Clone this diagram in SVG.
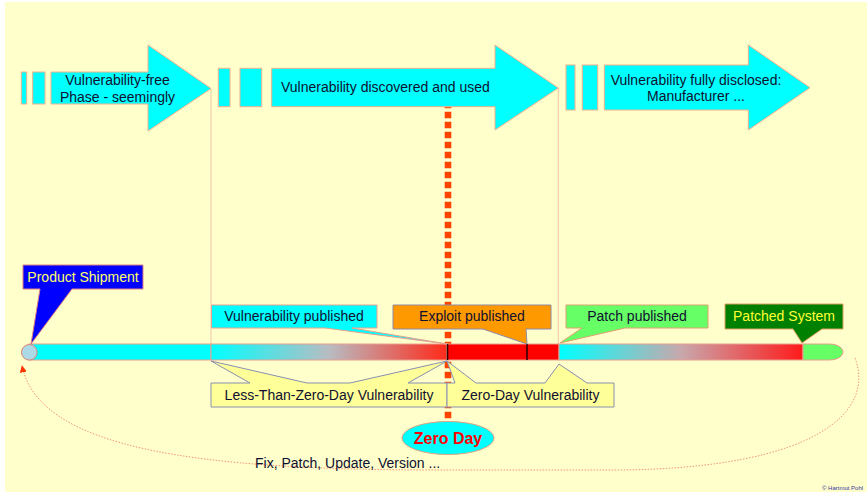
<svg xmlns="http://www.w3.org/2000/svg" width="867" height="494" viewBox="0 0 867 494">
  <style>
    .t { font-family: "Comic Sans MS", "Liberation Sans", sans-serif; font-size: 14px; fill: #101030; }
    .mid { text-anchor: middle; }
    .phase { fill: #00FFFF; stroke: #F2B08C; stroke-width: 1; }
    .guide { stroke: #F0B4A0; stroke-width: 0.8; fill: none; }
    .seg { stroke: #E8A090; stroke-width: 1; }
    .below { fill: #FFFF99; stroke: #8890B0; stroke-width: 1; }
    .tick { stroke: #300000; stroke-width: 1.6; }
  </style>
  <defs>
    <linearGradient id="fadeA" x1="0" y1="0" x2="1" y2="0">
      <stop offset="0" stop-color="#00FFFF"/>
      <stop offset="0.5" stop-color="#B8BCC2"/>
      <stop offset="1" stop-color="#FF2A1A"/>
    </linearGradient>
    <linearGradient id="fadeB" x1="0" y1="0" x2="1" y2="0">
      <stop offset="0" stop-color="#00FFFF"/>
      <stop offset="0.5" stop-color="#C8A8AC"/>
      <stop offset="1" stop-color="#FF1A1A"/>
    </linearGradient>
    <marker id="head" viewBox="0 0 10 10" refX="9" refY="5" markerWidth="7" markerHeight="7" markerUnits="userSpaceOnUse" orient="auto">
      <path d="M0,0 L10,5 L0,10 Z" fill="#FF3300"/>
    </marker>
  </defs>

  <!-- page -->
  <rect x="0" y="0" width="867" height="494" fill="#FFFFFF"/>
  <rect x="5" y="2" width="862" height="490" fill="#FFFFCC"/>

  <!-- zero-day marker line, phase boundaries and the update loop -->
  <g id="connectors">
    <line x1="448" y1="101.7" x2="448" y2="418.3" stroke="#FF4400" stroke-width="6.6" stroke-dasharray="6.6 3.4"/>
    <line class="guide" x1="211" y1="89" x2="211" y2="360"/>
    <line class="guide" x1="558.3" y1="88" x2="558.3" y2="344"/>
    <path d="M855,358 C875,410 820,468 620,470 L440,470 C200,470 40,450 22,366" fill="none" stroke="#F29478" stroke-width="1" stroke-dasharray="1.5 1.5" marker-end="url(#head)"/>
  </g>

  <!-- phase arrows -->
  <g id="phase-free">
    <rect class="phase" x="21.3" y="72" width="5.4" height="32"/>
    <rect class="phase" x="32.7" y="72" width="12.3" height="32"/>
    <polygon class="phase" points="51,72 148,72 148,45 211,88.5 148,131 148,104 51,104"/>
    <text class="t mid" x="117.5" y="85">Vulnerability-free</text>
    <text class="t mid" x="117.5" y="101.7">Phase - seemingly</text>
  </g>

  <g id="phase-discovered">
    <rect class="phase" x="218.3" y="68.3" width="11.7" height="38.4"/>
    <rect class="phase" x="240" y="68.3" width="21.7" height="38.4"/>
    <polygon class="phase" points="271.7,68.3 495,68.3 495,45 558.3,88 495,130 495,106.7 271.7,106.7"/>
    <text class="t" x="281" y="92">Vulnerability discovered and used</text>
  </g>

  <g id="phase-disclosed">
    <rect class="phase" x="566" y="65" width="9" height="45"/>
    <rect class="phase" x="582.3" y="65" width="15.4" height="45"/>
    <polygon class="phase" points="604.3,65 748.3,65 748.3,45 810,87.7 748.3,130 748.3,110 604.3,110"/>
    <text class="t mid" x="696" y="85">Vulnerability fully disclosed:</text>
    <text class="t mid" x="696" y="101">Manufacturer ...</text>
  </g>

  <!-- timeline bar -->
  <g id="timeline">
    <rect class="seg" x="29" y="344" width="182" height="16" fill="#00FFFF"/>
    <rect class="seg" x="211" y="344" width="236" height="16" fill="url(#fadeA)"/>
    <rect class="seg" x="447" y="344" width="112" height="16" fill="#FF0000"/>
    <rect class="seg" x="559" y="344" width="244" height="16" fill="url(#fadeB)"/>
    <path class="seg" d="M803,344 H830 A13,8 0 0 1 830,360 H803 Z" fill="#66FF66"/>
    <line class="tick" x1="447.5" y1="344" x2="447.5" y2="360"/>
    <line class="tick" x1="527" y1="344" x2="527" y2="360"/>
    <circle cx="29.3" cy="352.3" r="7.8" fill="#ADD8E6" stroke="#E08070" stroke-width="1"/>
  </g>

  <!-- callouts above the bar -->
  <g id="product-shipment">
    <path d="M23,265 H143 V289 H72 L31,344 L40,289 H23 Z" fill="#0000FF" stroke="#E08080" stroke-width="1"/>
    <text class="t mid" x="83" y="282" style="fill:#FFFF66">Product Shipment</text>
  </g>

  <g id="vulnerability-published">
    <path d="M211.5,305 H377 V328 H352 L447,344 L325,328 H211.5 Z" fill="#00FFFF" stroke="#E8A090" stroke-width="1"/>
    <text class="t mid" x="294" y="321">Vulnerability published</text>
  </g>

  <g id="exploit-published">
    <path d="M393,305 H551 V329 H526 L527,344 L483,329 H393 Z" fill="#FF9900" stroke="#9088A8" stroke-width="1"/>
    <text class="t mid" x="472" y="321">Exploit published</text>
  </g>

  <g id="patch-published">
    <path d="M566,305 H708 V328 H625 L560,343 L582,328 H566 Z" fill="#66FF66" stroke="#E0A070" stroke-width="1"/>
    <text class="t mid" x="637" y="321">Patch published</text>
  </g>

  <g id="patched-system">
    <path d="M725,304 H843 V329 H822 L802,343 L793,329 H725 Z" fill="#008000" stroke="#E0A060" stroke-width="1"/>
    <text class="t mid" x="784" y="321" style="fill:#FFFF33">Patched System</text>
  </g>

  <!-- callouts below the bar -->
  <g id="less-than-zero-day">
    <path class="below" d="M211,383 H250 L211,361 L307,383 H350 L447,361 L408,383 H447 V407 H211 Z"/>
    <text class="t mid" x="329" y="400">Less-Than-Zero-Day Vulnerability</text>
  </g>

  <g id="zero-day-vulnerability">
    <path class="below" d="M447,383 H455 L447,361 L476,383 H545 L559,364 L587,383 H614 V407 H447 Z"/>
    <text class="t mid" x="530.5" y="400">Zero-Day Vulnerability</text>
  </g>

  <g id="zero-day">
    <ellipse cx="448" cy="438" rx="46" ry="16.5" fill="#00FFFF" stroke="#E0A080" stroke-width="1"/>
    <text x="448" y="444" text-anchor="middle" style="font-family:'Comic Sans MS','Liberation Sans',sans-serif;font-size:16px;font-weight:bold;fill:#FF0000">Zero Day</text>
  </g>

  <g id="fix-note">
    <text class="t" x="255" y="468">Fix, Patch, Update, Version ...</text>
  </g>

  <text x="822" y="490" style="font-family:'Liberation Sans',sans-serif;font-size:6px;fill:#333399">© Hartmut Pohl</text>
</svg>
